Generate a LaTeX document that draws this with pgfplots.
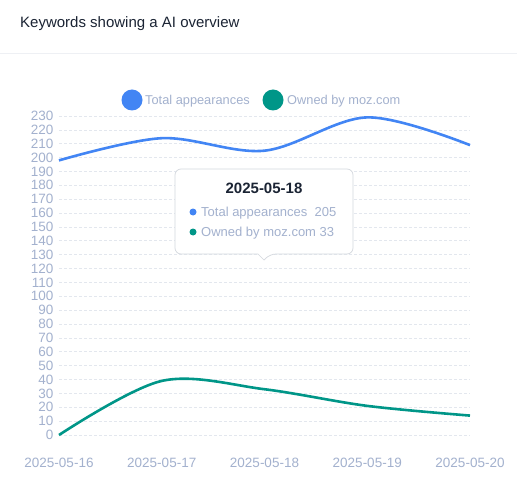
\documentclass[border=0pt]{standalone}
\usepackage{pgfplots}
\pgfplotsset{compat=1.18}
\usepackage{fontspec}
\setmainfont{Liberation Sans}
\definecolor{cblue}{HTML}{4285F4}
\definecolor{cgreen}{HTML}{009688}
\definecolor{ctick}{HTML}{A3B1CE}
\definecolor{cgrid}{HTML}{E3E7EE}
\definecolor{cline}{HTML}{EEF0F4}
\definecolor{ctitle}{HTML}{1B2434}
\definecolor{cborder}{HTML}{D4D8DE}
\begin{document}
\begin{tikzpicture}[x=1bp,y=1bp]
\path[use as bounding box, fill=white] (0,0) rectangle (517,-490);
\node[anchor=base west, font=\fontsize{15bp}{17bp}\selectfont, text=ctitle, inner sep=0] at (20,-28) {Keywords showing a AI overview};
\draw[cline, line width=0.8bp] (0,-53) -- (517,-53);
% legend
\fill[cblue] (132,-100) circle (10.5);
\node[anchor=base west, font=\fontsize{12.8bp}{14bp}\selectfont, text=ctick, inner sep=0] at (145,-104.5) {Total appearances};
\fill[cgreen] (273,-100) circle (10.5);
\node[anchor=base west, font=\fontsize{12.8bp}{14bp}\selectfont, text=ctick, inner sep=0] at (287,-104.5) {Owned by moz.com};
\begin{axis}[
  at={(59bp,-435bp)}, anchor=south west,
  scale only axis, width=411bp, height=319bp,
  xmin=0, xmax=4, ymin=0, ymax=230,
  clip=false,
  axis line style={draw=none},
  xtick={0,1,2,3,4},
  xticklabels={2025-05-16,2025-05-17,2025-05-18,2025-05-19,2025-05-20},
  ytick={0,10,...,230},
  major tick length=0pt,
  tick label style={font=\fontsize{13.5bp}{15bp}\selectfont, text=ctick},
  /pgf/number format/assume math mode=true,
  yticklabel style={xshift=-2bp},
  xticklabel style={yshift=-20bp},
  ymajorgrids, grid style={cgrid, dash pattern=on 2.5bp off 2.5bp, line width=0.7bp},
]
\addplot[cblue, line width=2.6bp, smooth, tension=0.55] coordinates {(0,198) (1,214) (2,205) (3,229) (4,209)};
\addplot[cgreen, line width=2.6bp, smooth, tension=0.55] coordinates {(0,0) (1,39) (2,33) (3,21) (4,14)};
\end{axis}
% tooltip
\draw[cborder, fill=white, line width=0.7bp, rounded corners=6bp]
  (175,-169) -- (353,-169) -- (353,-254) -- (270,-254) [sharp corners] -- (264,-260) -- (258,-254) [rounded corners=6bp] -- (175,-254) -- cycle;
\node[anchor=base, font=\fontsize{15bp}{17bp}\selectfont\bfseries, text=ctitle, inner sep=0] at (264,-193.5) {2025-05-18};
\fill[cblue] (193,-212) circle (3.5);
\node[anchor=base west, font=\fontsize{13bp}{14bp}\selectfont, text=ctick, inner sep=0] at (201,-216.5) {Total appearances\ \ 205};
\fill[cgreen] (193,-232) circle (3.5);
\node[anchor=base west, font=\fontsize{13bp}{14bp}\selectfont, text=ctick, inner sep=0] at (201,-236.5) {Owned by moz.com 33};
\end{tikzpicture}
\end{document}
